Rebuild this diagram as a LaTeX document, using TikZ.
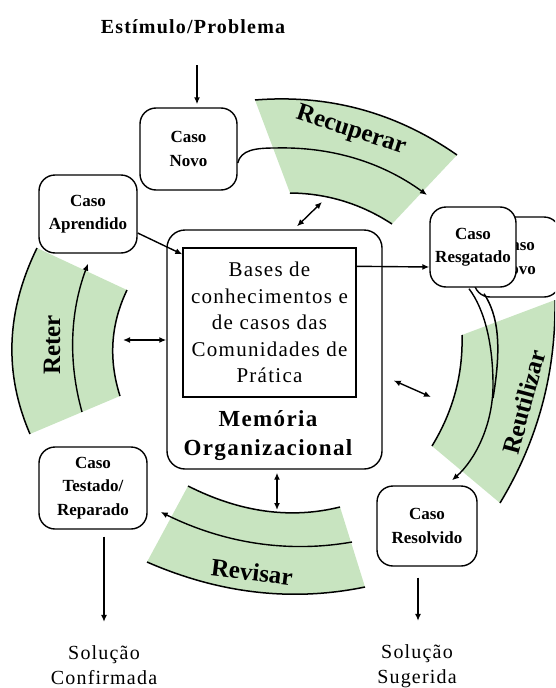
\documentclass[tikz,border=0pt]{standalone}
\usepackage{fontspec}
\setmainfont{Liberation Serif}
\newfontfamily\lsfont[LetterSpace=6]{Liberation Serif}
\usetikzlibrary{arrows.meta,calc}
\definecolor{bandgreen}{RGB}{200,228,192}
\begin{document}
\begin{tikzpicture}[x=1pt,y=-1pt,
  casebox/.style={draw, line width=1.4pt, rounded corners=16pt, fill=white, inner sep=0pt, align=center,
    font=\bfseries\fontsize{17}{23.5}\selectfont},
  bandline/.style={line width=1.5pt},
  bandlabel/.style={font=\bfseries\fontsize{25}{25}\selectfont, inner sep=1pt},
  conn/.style={line width=1.4pt, -{Latex[length=7pt,width=6pt]}},
  dconn/.style={line width=1.4pt, {Latex[length=7pt,width=6pt]}-{Latex[length=7pt,width=6pt]}}
]
\clip (0,0) rectangle (555,688);

% ---------- green bands ----------
% Recuperar
\fill[bandgreen] (255,100) .. controls (328.7,94.1) and (396.1,112.4) .. (457,155)
  -- (392,224) .. controls (360.9,203.7) and (326.9,193.3) .. (290,193) -- cycle;
% Reter
\fill[bandgreen] (37,248) .. controls (6,311.3) and (3.7,373.3) .. (30,434)
  -- (120,396) .. controls (108.3,359.3) and (110.7,324) .. (127,290) -- cycle;
% Reutilizar
\fill[bandgreen] (555,300) .. controls (556,373.1) and (537.7,440.8) .. (500,503)
  -- (432,446) .. controls (453.1,411.4) and (463.1,374.4) .. (462,335) -- cycle;
% Revisar
\fill[bandgreen] (147,562) .. controls (219.7,593.7) and (292.3,602) .. (365,587)
  -- (340,507) .. controls (290.7,519.3) and (240,512.3) .. (188,486) -- cycle;

% band edges
\draw[bandline] (255,100) .. controls (328.7,94.1) and (396.1,112.4) .. (457,155);
\draw[bandline] (290,193) .. controls (326.9,193.3) and (360.9,203.7) .. (392,224);
\draw[bandline] (37,248) .. controls (6,311.3) and (3.7,373.3) .. (30,434);
\draw[bandline] (127,290) .. controls (110.7,324) and (108.3,359.3) .. (120,396);
\draw[bandline] (555,300) .. controls (556,373.1) and (537.7,440.8) .. (500,503);
\draw[bandline] (462,335) .. controls (463.1,374.4) and (453.1,411.4) .. (432,446);
\draw[bandline] (188,486) .. controls (240,512.3) and (290.7,519.3) .. (340,507);
\draw[bandline] (147,562) .. controls (219.7,593.7) and (292.3,602) .. (365,587);

% band labels
\node[bandlabel, rotate=-18] (recup) at (351,131) {Recuperar};
\node[bandlabel, rotate=-7] (revis) at (252,572) {Revisar};
\node[bandlabel, rotate=75] (reutil) at (524,402) {Reutilizar};
\node[bandlabel, rotate=90] (reter) at (52,345) {Reter};

% ---------- boxes ----------
\node[casebox, minimum width=97pt, minimum height=82pt] (novo) at (188.5,149) {Caso\\Novo};
\node[casebox, minimum width=98pt, minimum height=78pt] (aprend) at (88,214) {Caso\\Aprendido};
\node[casebox, minimum width=108pt, minimum height=82pt] (test) at (93,488) {Caso\\Testado/\\Reparado};
\node[casebox, minimum width=100pt, minimum height=80pt] (resol) at (427,526) {Caso\\Resolvido};
\node[casebox, minimum width=86pt, minimum height=80pt] (back) at (517,257) {Caso\\Novo};
\node[casebox, minimum width=86pt, minimum height=80pt] (resg) at (473,247) {Caso\\Resgatado};

\node[draw, line width=1.4pt, rounded corners=18pt, minimum width=215pt, minimum height=239pt, inner sep=0pt] (mem) at (274.5,349.5) {};
\node[draw, line width=1.4pt, minimum width=173pt, minimum height=149pt, inner sep=0pt, align=center,
  font=\lsfont\fontsize{21}{26.5}\selectfont] (inner) at (269.5,322.5)
  {Bases de\\conhecimentos e\\de casos das\\Comunidades de\\Prática};
\node[font=\lsfont\bfseries\fontsize{23}{29}\selectfont, align=center] (memlbl) at (268,436) {Memória\\Organizacional};

% ---------- free texts ----------
\node[font=\lsfont\bfseries\fontsize{20}{24}\selectfont] (estim) at (193,27) {Estímulo/Problema};
\node[font=\lsfont\fontsize{20}{25}\selectfont, align=center] (conf) at (104,665) {Solução\\Confirmada};
\node[font=\lsfont\fontsize{20}{25}\selectfont, align=center] (sug) at (417,666) {Solução\\Sugerida};

% ---------- coordinates ----------
\coordinate (s0) at (197,65);
\coordinate (novoout) at ($(novo.east)+(0,14)$);
\coordinate (aprendin) at ($(aprend.south)+(0,10)$);
\coordinate (testin) at ($(test.east)+(13,24)$);
\coordinate (resgout) at ($(resg.south)+(-4,1)$);
\coordinate (backout) at ($(back.south)+(-33,-4)$);
\coordinate (resolin) at ($(resol.north)+(25,-5)$);
\coordinate (recin) at (322,202);
\coordinate (reterin) at (123,340);
\coordinate (reuout) at ($(mem.east)+(11,31)$);
\coordinate (reuin) at (431,397);
\coordinate (revin) at (277,510);
\coordinate (reterstart) at (82,412);
\coordinate (revstart) at (352,542);
\coordinate (merge) at (493,398);

% ---------- connectors ----------
\draw[conn] (s0) -- ($(novo.north)+(8.5,-3)$);
\draw[conn] ($(aprend.east)+(0,19)$) -- ($(inner.north west)+(0,7)$);
\draw[conn] ($(inner.north east)+(0,19)$) -- ($(resg.west)+(0,20)$);
\draw[conn] ($(test.south)+(11,7)$) -- ($(conf.north)+(0,-20)$);
\draw[conn] ($(resol.south)+(-9,11)$) -- ($(sug.north)+(1,-20)$);

\draw[dconn] ($(mem.north)+(22.5,-3)$) -- (recin);
\draw[dconn] (reterin) -- ($(mem.west)+(0,-9.5)$);
\draw[dconn] (reuout) -- (reuin);
\draw[dconn] ($(mem.south)+(2.5,3)$) -- (revin);

% band arrows
\draw[conn] (novoout) .. controls (241,150) and (255,148) .. (275,148)
  .. controls (331.1,146.5) and (381.8,162.1) .. (427,195);
\draw[conn] (reterstart) .. controls (68,361.7) and (70,312) .. (aprendin);
\draw[conn] (revstart) .. controls (288,553.3) and (224,543.3) .. (testin);
\draw[conn] (resgout) .. controls (485,310) and (493,345) .. (493,385)
  .. controls (493,425) and (475,460) .. (resolin);
\draw[bandline] (backout) .. controls (498,315) and (502,345) .. (merge);
\end{tikzpicture}
\end{document}
